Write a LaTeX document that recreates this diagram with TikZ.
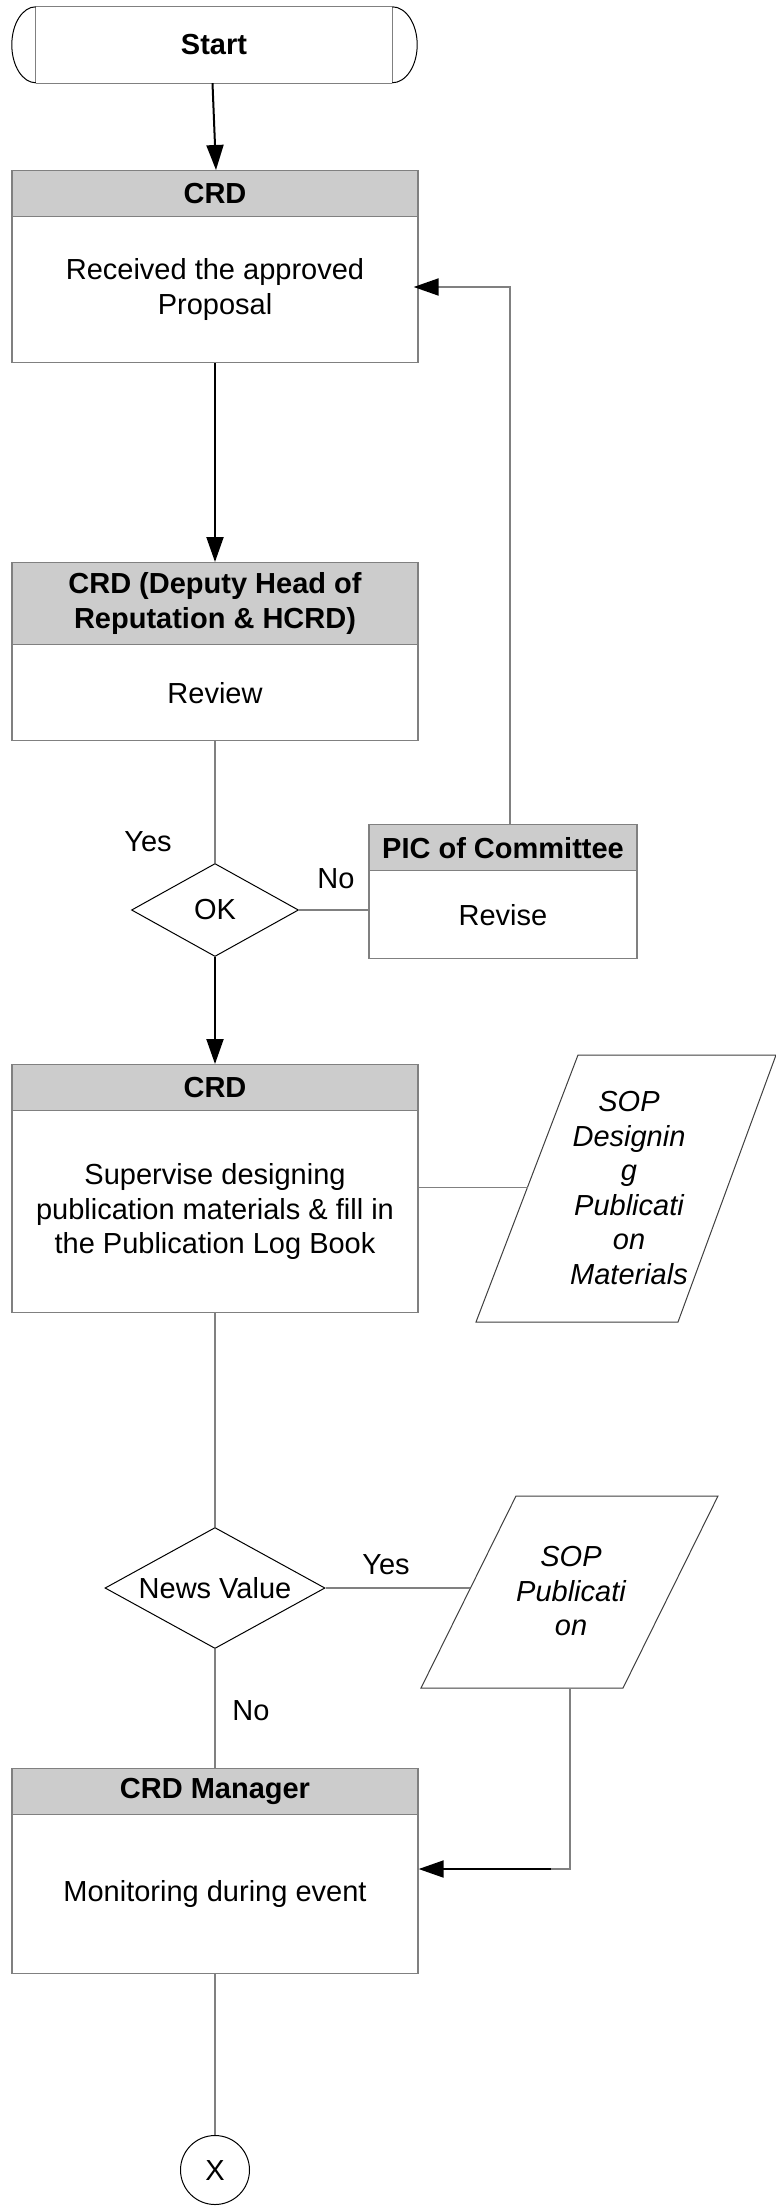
\documentclass[tikz,border=0pt]{standalone}
\usepackage{fontspec}
\setmainfont{Liberation Sans}
\usetikzlibrary{shapes.geometric,arrows.meta,calc}
\definecolor{hdrgray}{HTML}{CCCCCC}
\definecolor{linegray}{HTML}{808080}
\newcommand{\fsz}{\fontsize{29}{34.5}\selectfont}
\tikzset{
  hdr/.style={draw=linegray, line width=1.3pt, fill=hdrgray, font=\bfseries\fsz, minimum width=406pt, inner sep=0pt, align=center, anchor=north},
  bodybox/.style={draw=linegray, line width=1.3pt, fill=white, font=\fsz, minimum width=406pt, inner sep=0pt, align=center, anchor=north},
  conn/.style={draw=linegray, line width=1.3pt},
  arrline/.style={draw=black, line width=2pt, -{Triangle[length=25pt,width=17pt]}},
  decision/.style={draw=black, line width=1pt, diamond, inner sep=0pt, font=\fsz, fill=white},
  lbl/.style={font=\fsz, inner sep=0pt},
  iotext/.style={font=\itshape\fsz, align=center, inner sep=0pt},
  iobox/.style={draw=black!75, line width=1pt, fill=white},
  thin/.style={draw=black, line width=1pt}
}
\begin{document}
\begin{tikzpicture}[x=1pt,y=-1pt]
\useasboundingbox (0,0) rectangle (776,2206);

% Start terminator
\node[font=\bfseries\fsz, minimum width=356pt, minimum height=76pt, inner sep=0pt] (start) at (214,45) {Start};
\draw[conn] (start.north west) -- (start.north east);
\draw[conn] (start.south west) -- (start.south east);
\draw[conn] (start.north west) -- (start.south west);
\draw[conn] (start.north east) -- (start.south east);
\draw[thin] (start.north west) arc[start angle=-90, end angle=-270, x radius=24, y radius=38];
\draw[thin] (start.north east) arc[start angle=-90, end angle=90, x radius=25, y radius=38];

% Box 1
\node[hdr, minimum height=46pt] (crd1h) at (215,170) {CRD};
\node[bodybox, minimum height=146pt] (crd1b) at (215,216) {Received the approved\\Proposal};

% Box 2
\node[hdr, minimum height=82pt] (crd2h) at (215,562) {CRD (Deputy Head of\\Reputation \& HCRD)};
\node[bodybox, minimum height=96pt] (crd2b) at (215,644) {Review};

% Decision OK
\node[decision, shape aspect=1.8, minimum width=167pt, minimum height=93pt] (ok) at (215,910) {OK};

% PIC box
\node[hdr, minimum width=268pt, minimum height=46pt] (pich) at (503,824) {PIC of Committee};
\node[bodybox, minimum width=268pt, minimum height=88pt] (picb) at (503,870) {Revise};

% Box 3
\node[hdr, minimum height=46pt] (crd3h) at (215,1064) {CRD};
\node[bodybox, minimum height=202pt] (crd3b) at (215,1110) {Supervise designing\\publication materials \& fill in\\the Publication Log Book};

% SOP 1 parallelogram
\draw[iobox] (578,1055) -- (776,1055) -- (678,1322) -- (476,1322) -- cycle;
\node[iotext] (sop1) at (629,1188) {SOP\\Designin\\g\\Publicati\\on\\Materials};
\coordinate (p1left) at (527.5,1187.5);

% Decision News Value
\node[decision, shape aspect=1.82, minimum width=220pt, minimum height=121pt] (news) at (215,1588) {News Value};

% SOP 2 parallelogram
\draw[iobox] (516,1496) -- (718,1496) -- (623,1688) -- (421,1688) -- cycle;
\node[iotext] (sop2) at (571,1591) {SOP\\Publicati\\on};
\coordinate (p2left) at (470,1588);
\coordinate (p2bot) at (570,1688);

% Box 4
\node[hdr, minimum height=46pt] (mgrh) at (215,1768) {CRD Manager};
\node[bodybox, minimum height=159pt] (mgrb) at (215,1814) {Monitoring during event};

% Connector X
\node[draw=black, line width=1pt, circle, minimum size=69pt, inner sep=0pt, font=\fsz] (xend) at (215,2170) {X};

% Labels
\node[lbl] (yes1) at (148,842) {Yes};
\node[lbl] (no1) at (336,879) {No};
\node[lbl] (yes2) at (386,1565) {Yes};
\node[lbl] (no2) at (251,1711) {No};

% Connectors
\draw[arrline] ([xshift=-1.5pt]start.south) -- ([xshift=1pt]crd1h.north);
\draw[arrline] (crd1b.south) -- (crd2h.north);
\draw[conn] (crd2b.south) -- (ok.north);
\draw[conn] (ok.east) -- (ok.east -| picb.west);
\coordinate (r1) at (436,287);
\draw[conn] ([xshift=7pt]pich.north) |- (r1);
\draw[arrline] (r1) -- ([xshift=-5pt]crd1b.east |- r1);
\draw[arrline] (ok.south) -- (crd3h.north);
\draw[conn] (crd3b.east |- p1left) -- (p1left);
\draw[conn] (crd3b.south) -- (news.north);
\draw[conn] (news.east) -- (p2left);
\draw[conn] (news.south) -- (mgrh.north);
\coordinate (r2) at (551,1869);
\draw[conn] (p2bot) |- (r2);
\draw[arrline] (r2) -- (mgrb.east |- r2);
\draw[conn] (mgrb.south) -- (xend.north);
\end{tikzpicture}
\end{document}
